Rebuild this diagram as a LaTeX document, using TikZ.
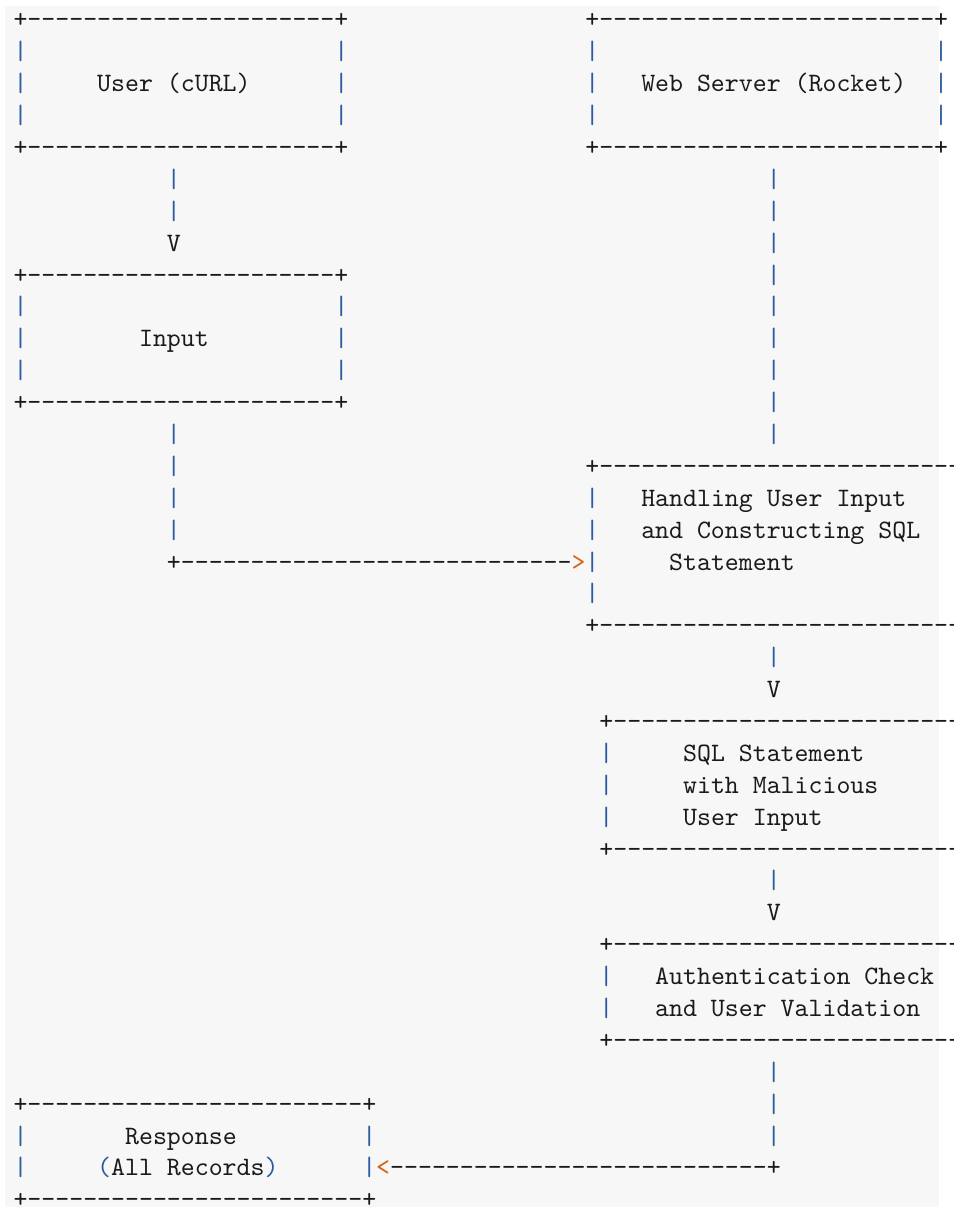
\documentclass[tikz,border=0pt]{standalone}
\usepackage{fontspec}
\usepackage{xcolor}
\usepackage{tikz}
\newfontfamily\asciifamily{lmmono10-regular}[Extension=.otf]
\definecolor{asciiInk}{HTML}{1A1A1A}
\definecolor{asciiBlue}{HTML}{2D5DA1}
\definecolor{asciiOrange}{HTML}{D76414}
\definecolor{asciiPaper}{HTML}{F7F7F7}
\newcommand{\asciifont}{\asciifamily\fontsize{13.286pt}{15.945pt}\selectfont}
\newcommand{\dashrun}[1]{\foreach \k in {1,...,#1}{-}}
\newcommand{\boxedge}[1]{+\dashrun{#1}+}
\newcommand{\openedge}[1]{+\dashrun{#1}}

\begin{document}
\begin{tikzpicture}[x=6.975pt, y=-15.945pt, every node/.style={anchor=base west, inner sep=0pt, outer sep=0pt, text=asciiInk, font=\asciifont}, pipe/.style={text=asciiBlue}, tip/.style={text=asciiOrange}]
\useasboundingbox (-0.968,0.125) rectangle (67.42,38.037);
\fill[asciiPaper] (-0.61,0.313) rectangle (66.34,37.974);

% user and server
\node (userTop) at (0,1) {\boxedge{22}};
\node (userBot) at (0,5) {\boxedge{22}};
\node (serverTop) at (41,1) {\boxedge{24}};
\node (serverBot) at (41,5) {\boxedge{24}};
\foreach \r in {2,3,4} {
  \node[pipe] (userL\r) at (0,\r) {|};
  \node[pipe] (userR\r) at (23,\r) {|};
  \node[pipe] (serverL\r) at (41,\r) {|};
  \node[pipe] (serverR\r) at (66,\r) {|};
}
\node (user) at (6,3) {User (cURL)};
\node (server) at (45,3) {Web Server (Rocket)};

% input
\node (inputTop) at (0,9) {\boxedge{22}};
\node (inputBot) at (0,13) {\boxedge{22}};
\foreach \r in {10,11,12} {
  \node[pipe] (inputL\r) at (0,\r) {|};
  \node[pipe] (inputR\r) at (23,\r) {|};
}
\node (input) at (9,11) {Input};

% handling
\node (handleTop) at (41,15) {\openedge{30}};
\node (handleBot) at (41,20) {\openedge{30}};
\foreach \r in {16,...,19}
  \node[pipe] (handleL\r) at (41,\r) {|};
\node (handle1) at (45,16) {Handling User Input};
\node (handle2) at (45,17) {and Constructing SQL};
\node (handle3) at (47,18) {Statement};

% sql statement
\node (sqlTop) at (42,23) {\openedge{30}};
\node (sqlBot) at (42,27) {\openedge{30}};
\foreach \r in {24,25,26}
  \node[pipe] (sqlL\r) at (42,\r) {|};
\node (sql1) at (48,24) {SQL Statement};
\node (sql2) at (48,25) {with Malicious};
\node (sql3) at (48,26) {User Input};

% auth check
\node (authTop) at (42,30) {\openedge{30}};
\node (authBot) at (42,33) {\openedge{30}};
\foreach \r in {31,32}
  \node[pipe] (authL\r) at (42,\r) {|};
\node (auth1) at (46,31) {Authentication Check};
\node (auth2) at (46,32) {and User Validation};

% response
\node (respTop) at (0,35) {\boxedge{24}};
\node (respBot) at (0,38) {\boxedge{24}};
\foreach \r in {36,37} {
  \node[pipe] (respL\r) at (0,\r) {|};
  \node[pipe] (respR\r) at (25,\r) {|};
}
\node (resp1) at (8,36) {Response};
\node (resp2) at (6,37) {\textcolor{asciiBlue}{(}All Records\textcolor{asciiBlue}{)}};

% connectors
\foreach \r in {6,7}
  \node[pipe] (userDown\r) at (11,\r) {|};
\node (userHead) at (11,8) {V};
\foreach \r in {6,...,14}
  \node[pipe] (serverDown\r) at (54,\r) {|};
\foreach \r in {14,...,17}
  \node[pipe] (inputDown\r) at (11,\r) {|};
\node (inputRun) at (11,18) {+\dashrun{28}};
\node[tip] (inputHead) at (40,18) {>};
\node[pipe] (handleDown) at (54,21) {|};
\node (handleHead) at (54,22) {V};
\node[pipe] (sqlDown) at (54,28) {|};
\node (sqlHead) at (54,29) {V};
\foreach \r in {34,35,36}
  \node[pipe] (authDown\r) at (54,\r) {|};
\node[tip] (authHead) at (26,37) {<};
\node (authRun) at (27,37) {\dashrun{27}+};
\end{tikzpicture}
\end{document}
